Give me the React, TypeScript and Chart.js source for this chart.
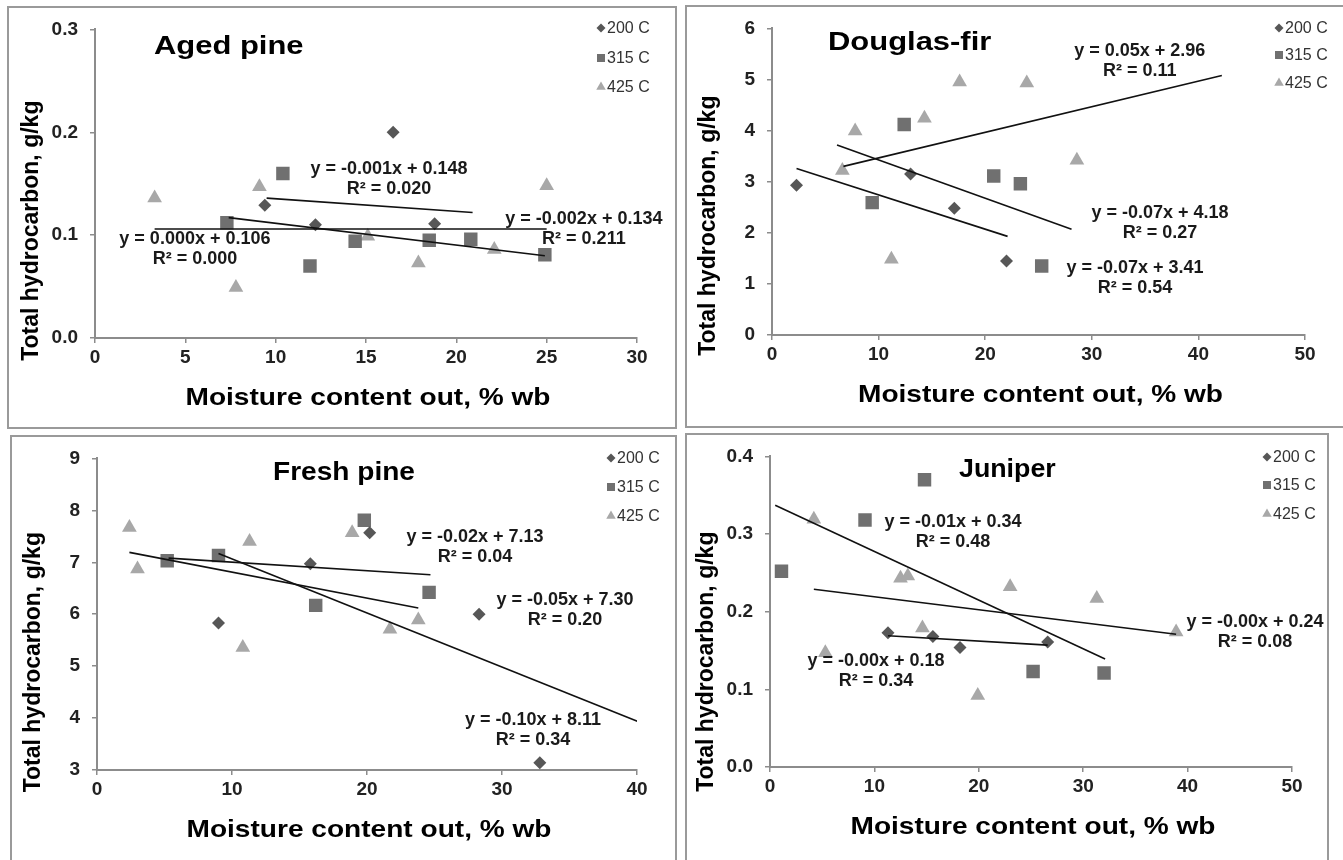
import React, { useEffect, useRef } from 'react';
import { Chart, registerables } from 'chart.js';

Chart.register(...registerables);

const FONT = '"Liberation Sans", Arial, Helvetica, sans-serif';
const SERIES_NAMES = ['200 C', '315 C', '425 C'];
const SERIES_COLORS = ['#575757', '#707070', '#a8a8a8'];
const AXIS_COLOR = '#8c8c8c';
const Y_TITLE = 'Total hydrocarbon, g/kg';
const X_TITLE = 'Moisture content out, % wb';

// ---------- Aged pine ----------
const agedX200 = [9.4, 12.2, 16.5, 18.8];
const agedY200 = [0.129, 0.110, 0.200, 0.111];
const agedX315 = [7.3, 10.4, 11.9, 14.4, 18.5, 20.8, 24.9];
const agedY315 = [0.112, 0.160, 0.070, 0.094, 0.095, 0.096, 0.081];
const agedX425 = [3.3, 7.8, 9.1, 15.1, 17.9, 22.1, 25.0];
const agedY425 = [0.136, 0.049, 0.147, 0.099, 0.073, 0.086, 0.148];
const agedFitX = [[9.5, 20.9], [3.3, 25.0], [7.4, 24.9]];
const agedFitY = [[0.136, 0.122], [0.106, 0.106], [0.117, 0.080]];
const agedEq = ['y = -0.001x + 0.148', 'y = 0.000x + 0.106', 'y = -0.002x + 0.134'];
const agedR2 = ['R² = 0.020', 'R² = 0.000', 'R² = 0.211'];

// ---------- Douglas-fir ----------
const dougX200 = [2.3, 13.0, 17.1, 22.0];
const dougY200 = [2.93, 3.15, 2.48, 1.45];
const dougX315 = [9.4, 12.4, 20.8, 23.3, 25.3];
const dougY315 = [2.59, 4.12, 3.11, 2.96, 1.35];
const dougX425 = [6.6, 7.8, 11.2, 14.3, 17.6, 23.9, 28.6];
const dougY425 = [3.22, 3.99, 1.48, 4.24, 4.95, 4.93, 3.42];
const dougFitX = [[6.7, 42.2], [6.1, 28.1], [2.3, 22.1]];
const dougFitY = [[3.30, 5.08], [3.72, 2.07], [3.26, 1.93]];
const dougEq = ['y = 0.05x + 2.96', 'y = -0.07x + 4.18', 'y = -0.07x + 3.41'];
const dougR2 = ['R² = 0.11', 'R² = 0.27', 'R² = 0.54'];

// ---------- Fresh pine ----------
const freshX200 = [9.0, 15.8, 20.2, 28.3, 32.8];
const freshY200 = [5.83, 6.97, 7.57, 6.00, 3.14];
const freshX315 = [5.2, 9.0, 16.2, 19.8, 24.6];
const freshY315 = [7.03, 7.13, 6.17, 7.81, 6.42];
const freshX425 = [2.4, 3.0, 10.8, 11.3, 18.9, 21.7, 23.8];
const freshY425 = [7.67, 6.87, 5.36, 7.40, 7.57, 5.71, 5.89];
const freshFitX = [[5.3, 24.7], [2.4, 23.8], [9.0, 40.1]];
const freshFitY = [[7.08, 6.76], [7.19, 6.12], [7.17, 3.93]];
const freshEq = ['y = -0.02x + 7.13', 'y = -0.05x + 7.30', 'y = -0.10x + 8.11'];
const freshR2 = ['R² = 0.04', 'R² = 0.20', 'R² = 0.34'];

// ---------- Juniper ----------
const junX200 = [11.3, 15.6, 18.2, 26.6];
const junY200 = [0.173, 0.168, 0.154, 0.161];
const junX315 = [1.1, 9.1, 14.8, 25.2, 32.0];
const junY315 = [0.252, 0.318, 0.370, 0.123, 0.121];
const junX425 = [4.2, 5.3, 12.5, 13.2, 14.6, 19.9, 23.0, 31.3, 38.9];
const junY425 = [0.319, 0.147, 0.243, 0.246, 0.179, 0.092, 0.232, 0.217, 0.174];
const junFitX = [[0.5, 32.1], [4.2, 38.9], [11.3, 26.6]];
const junFitY = [[0.337, 0.139], [0.229, 0.171], [0.169, 0.157]];
const junEq = ['y = -0.01x + 0.34', 'y = -0.00x + 0.24', 'y = -0.00x + 0.18'];
const junR2 = ['R² = 0.48', 'R² = 0.08', 'R² = 0.34'];

type PanelCfg = {
  title: string;
  box: { left: number; top: number; width: number; height: number; noRight?: boolean; noBottom?: boolean };
  plot: { l: number; t: number; r: number; b: number };
  xMax: number; xStep: number;
  yMin: number; yMax: number; yStep: number; yDec: number;
  xs: number[][]; ys: number[][];
  fitX: number[][]; fitY: number[][];
  eq: string[]; r2: string[];
  eqAt: { x: number; y: number }[];
  titleAt: { dx: number; dy: number; sx: number };
  legendAt: { x: number; y: number[] };
  yTitleDy: number;
};

const panels: PanelCfg[] = [
  {
    title: 'Aged pine',
    box: { left: 7, top: 6, width: 670, height: 423 },
    plot: { l: 88, t: 19, r: 630, b: 332 },
    xMax: 30, xStep: 5, yMin: 0, yMax: 0.3, yStep: 0.1, yDec: 1,
    xs: [agedX200, agedX315, agedX425], ys: [agedY200, agedY315, agedY425],
    fitX: agedFitX, fitY: agedFitY, eq: agedEq, r2: agedR2,
    eqAt: [{ x: 16.27, y: 0.164 }, { x: 5.53, y: 0.0958 }, { x: 27.06, y: 0.116 }],
    titleAt: { dx: 59, dy: 25, sx: 1.19 },
    legendAt: { x: 594, y: [22, 52, 81] },
    yTitleDy: 47,
  },
  {
    title: 'Douglas-fir',
    box: { left: 685, top: 5, width: 658, height: 423, noRight: true },
    plot: { l: 87, t: 20, r: 620, b: 330 },
    xMax: 50, xStep: 10, yMin: 0, yMax: 6, yStep: 1, yDec: 0,
    xs: [dougX200, dougX315, dougX425], ys: [dougY200, dougY315, dougY425],
    fitX: dougFitX, fitY: dougFitY, eq: dougEq, r2: dougR2,
    eqAt: [{ x: 34.5, y: 5.55 }, { x: 36.4, y: 2.38 }, { x: 34.05, y: 1.32 }],
    titleAt: { dx: 56, dy: 22, sx: 1.19 },
    legendAt: { x: 594, y: [23, 50, 78] },
    yTitleDy: 44,
  },
  {
    title: 'Fresh pine',
    box: { left: 10, top: 435, width: 667, height: 425, noBottom: true },
    plot: { l: 87, t: 20, r: 627, b: 335 },
    xMax: 40, xStep: 10, yMin: 3, yMax: 9, yStep: 1, yDec: 0,
    xs: [freshX200, freshX315, freshX425], ys: [freshY200, freshY315, freshY425],
    fitX: freshFitX, fitY: freshFitY, eq: freshEq, r2: freshR2,
    eqAt: [{ x: 28.0, y: 7.48 }, { x: 34.67, y: 6.28 }, { x: 32.3, y: 3.97 }],
    titleAt: { dx: 176, dy: 22, sx: 1.08 },
    legendAt: { x: 601, y: [23, 52, 81] },
    yTitleDy: 48,
  },
  {
    title: 'Juniper',
    box: { left: 685, top: 433, width: 644, height: 427, noBottom: true },
    plot: { l: 85, t: 20, r: 607, b: 334 },
    xMax: 50, xStep: 10, yMin: 0, yMax: 0.4, yStep: 0.1, yDec: 1,
    xs: [junX200, junX315, junX425], ys: [junY200, junY315, junY425],
    fitX: junFitX, fitY: junFitY, eq: junEq, r2: junR2,
    eqAt: [{ x: 17.53, y: 0.315 }, { x: 46.46, y: 0.187 }, { x: 10.15, y: 0.136 }],
    titleAt: { dx: 189, dy: 21, sx: 1.03 },
    legendAt: { x: 582, y: [24, 52, 81] },
    yTitleDy: 50,
  },
];

const POINT_STYLES = ['rectRot', 'rect', 'triangle'];
const POINT_RADII = [6.5, 9.5, 8.5];

function drawMarker(ctx: CanvasRenderingContext2D, kind: number, x: number, y: number) {
  ctx.fillStyle = SERIES_COLORS[kind];
  ctx.beginPath();
  if (kind === 0) {
    const r = 4.5;
    ctx.moveTo(x, y - r); ctx.lineTo(x + r, y); ctx.lineTo(x, y + r); ctx.lineTo(x - r, y);
  } else if (kind === 1) {
    ctx.rect(x - 4, y - 4, 8, 8);
  } else {
    const r = 5.5;
    ctx.moveTo(x, y - r); ctx.lineTo(x + r * 0.866, y + r / 2); ctx.lineTo(x - r * 0.866, y + r / 2);
  }
  ctx.closePath();
  ctx.fill();
}

function stretchedText(ctx: CanvasRenderingContext2D, text: string, x: number, y: number, sx: number) {
  ctx.save();
  ctx.translate(x, y);
  ctx.scale(sx, 1);
  ctx.fillText(text, 0, 0);
  ctx.restore();
}

function makeDecor(p: PanelCfg) {
  return {
    id: 'decor',
    afterDraw(chart: any) {
      const ctx: CanvasRenderingContext2D = chart.ctx;
      const ca = chart.chartArea;
      const xs = chart.scales.x;
      const ys = chart.scales.y;
      ctx.save();
      // Title
      ctx.fillStyle = '#000';
      ctx.textBaseline = 'alphabetic';
      ctx.textAlign = 'left';
      ctx.font = `bold 26px ${FONT}`;
      stretchedText(ctx, p.title, ca.left + p.titleAt.dx, ca.top + p.titleAt.dy, p.titleAt.sx);
      // X title
      ctx.font = `bold 24px ${FONT}`;
      ctx.textAlign = 'center';
      stretchedText(ctx, X_TITLE, (ca.left + ca.right) / 2 + 2, ca.bottom + 67, 1.17);
      // Y title
      ctx.font = `bold 23px ${FONT}`;
      ctx.save();
      ctx.translate(ca.left - 57, (ca.top + ca.bottom) / 2 + p.yTitleDy);
      ctx.rotate(-Math.PI / 2);
      ctx.fillText(Y_TITLE, 0, 0);
      ctx.restore();
      // Equations
      ctx.font = `bold 18px ${FONT}`;
      ctx.fillStyle = '#1a1a1a';
      ctx.textBaseline = 'middle';
      ctx.textAlign = 'center';
      p.eqAt.forEach((a, i) => {
        const px = xs.getPixelForValue(a.x);
        const py = ys.getPixelForValue(a.y);
        ctx.fillText(p.eq[i], px, py);
        ctx.fillText(p.r2[i], px, py + 20);
      });
      // Legend
      ctx.font = `16px ${FONT}`;
      ctx.textAlign = 'left';
      SERIES_NAMES.forEach((name, i) => {
        const lx = p.legendAt.x;
        const ly = p.legendAt.y[i];
        drawMarker(ctx, i, lx, ly);
        ctx.fillStyle = '#333';
        ctx.fillText(name, lx + 6, ly + 1);
      });
      ctx.restore();
    },
  };
}

function Panel({ p }: { p: PanelCfg }) {
  const ref = useRef<HTMLCanvasElement | null>(null);
  useEffect(() => {
    if (!ref.current) return;
    const scatterSets = p.xs.map((xArr, i) => ({
      label: SERIES_NAMES[i],
      data: xArr.map((x, j) => ({ x, y: p.ys[i][j] })),
      pointStyle: POINT_STYLES[i],
      pointRadius: POINT_RADII[i],
      pointHoverRadius: POINT_RADII[i],
      backgroundColor: SERIES_COLORS[i],
      borderColor: SERIES_COLORS[i],
      borderWidth: 0,
      showLine: false,
      order: 2,
    }));
    const fitSets = p.fitX.map((fx, i) => ({
      label: 'fit' + i,
      data: fx.map((x, j) => ({ x, y: p.fitY[i][j] })),
      showLine: true,
      borderColor: '#111',
      borderWidth: 1.6,
      pointRadius: 0,
      pointHoverRadius: 0,
      fill: false,
      order: 1,
    }));
    const tickFont = { size: 19, family: FONT, weight: 'bold' };
    const gridCfg = {
      display: true,
      drawOnChartArea: false,
      drawTicks: true,
      tickLength: 5,
      color: AXIS_COLOR,
      lineWidth: 1.5,
    };
    const borderCfg = { display: true, color: AXIS_COLOR, width: 2 };
    const chart = new Chart(ref.current, {
      type: 'scatter',
      data: { datasets: [...fitSets, ...scatterSets] as any },
      options: {
        responsive: false,
        animation: false,
        events: [],
        layout: { padding: { left: 0, top: p.plot.t, right: p.box.width - p.plot.r, bottom: 0 } },
        plugins: { legend: { display: false }, tooltip: { enabled: false }, title: { display: false } },
        scales: {
          x: {
            type: 'linear',
            min: 0,
            max: p.xMax,
            ticks: { stepSize: p.xStep, font: tickFont, color: '#222', padding: 3, maxRotation: 0, autoSkip: false },
            grid: gridCfg,
            border: borderCfg,
            afterFit: (s: any) => { s.height = p.box.height - p.plot.b; },
          },
          y: {
            type: 'linear',
            min: p.yMin,
            max: p.yMax,
            ticks: {
              stepSize: p.yStep,
              font: tickFont,
              color: '#222',
              padding: 12,
              autoSkip: false,
              callback: (v: any) => Number(v).toFixed(p.yDec),
            },
            grid: gridCfg,
            border: borderCfg,
            afterFit: (s: any) => { s.width = p.plot.l; },
          },
        },
      } as any,
      plugins: [makeDecor(p)],
    });
    return () => chart.destroy();
  }, [p]);
  const b = p.box;
  return (
    <div style={{ position: 'absolute', left: b.left, top: b.top, width: b.width, height: b.height }}>
      <canvas ref={ref} width={b.width} height={b.height} style={{ display: 'block', width: b.width, height: b.height }} />
      <div
        style={{
          position: 'absolute',
          left: 0,
          top: 0,
          width: b.width,
          height: b.height,
          boxSizing: 'border-box',
          borderTop: '2px solid #9a9a9a',
          borderLeft: '2px solid #9a9a9a',
          borderRight: b.noRight ? 'none' : '2px solid #9a9a9a',
          borderBottom: b.noBottom ? 'none' : '2px solid #9a9a9a',
          pointerEvents: 'none',
        }}
      />
    </div>
  );
}

export default function App() {
  return (
    <div
      style={{
        position: 'absolute',
        left: 0,
        top: 0,
        width: 1343,
        height: 860,
        overflow: 'hidden',
        background: '#fff',
        fontFamily: FONT,
      }}
    >
      {panels.map((p) => (
        <Panel key={p.title} p={p} />
      ))}
    </div>
  );
}
